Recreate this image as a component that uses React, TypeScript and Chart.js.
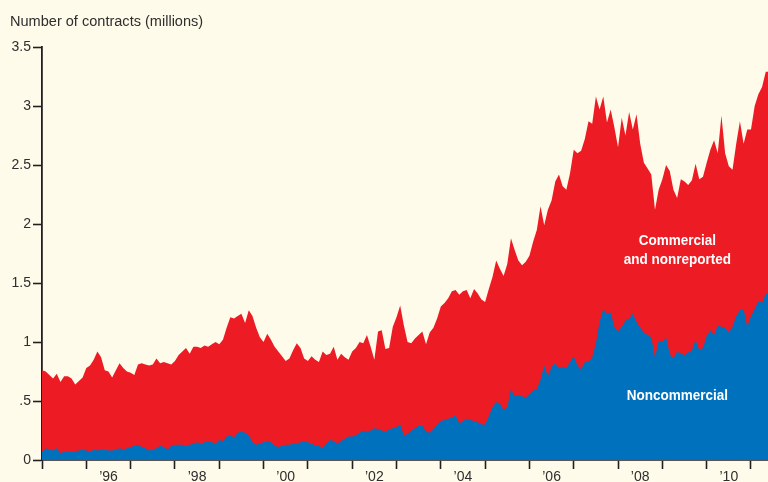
import React, { useEffect, useRef } from "react";
import { Chart, registerables } from "chart.js";

Chart.register(...registerables);

// Monthly values, starting January 1995 (millions of contracts)
const START_YEAR = 1995;
const END_YEAR = 2011.384;

const total = [
  0.76, 0.75, 0.72, 0.69, 0.73, 0.66, 0.71, 0.71, 0.69, 0.64, 0.67, 0.70,
  0.78, 0.80, 0.85, 0.92, 0.87, 0.76, 0.75, 0.70, 0.76, 0.82, 0.78, 0.75,
  0.74, 0.72, 0.81, 0.82, 0.81, 0.80, 0.81, 0.86, 0.82, 0.83, 0.82, 0.81,
  0.84, 0.89, 0.92, 0.95, 0.90, 0.96, 0.96, 0.95, 0.97, 0.96, 0.98, 1.00,
  0.98, 1.02, 1.12, 1.21, 1.20, 1.22, 1.24, 1.16, 1.27, 1.22, 1.12, 1.04,
  1.00, 1.07, 1.02, 0.96, 0.92, 0.88, 0.84, 0.86, 0.93, 0.99, 0.95, 0.86,
  0.84, 0.88, 0.85, 0.83, 0.92, 0.89, 0.90, 0.96, 0.85, 0.90, 0.87, 0.85,
  0.92, 0.95, 1.00, 0.99, 1.06, 0.96, 0.85, 1.09, 1.10, 0.94, 0.95, 1.13,
  1.21, 1.31, 1.14, 1.00, 0.99, 1.03, 1.06, 1.09, 0.98, 1.08, 1.12, 1.20,
  1.30, 1.33, 1.37, 1.43, 1.44, 1.40, 1.43, 1.44, 1.37, 1.45, 1.41, 1.36,
  1.34, 1.45, 1.55, 1.69, 1.62, 1.56, 1.66, 1.88, 1.78, 1.69, 1.65, 1.68,
  1.73, 1.85, 1.95, 2.15, 1.99, 2.12, 2.20, 2.36, 2.42, 2.32, 2.29, 2.43,
  2.63, 2.60, 2.62, 2.72, 2.87, 2.85, 3.08, 2.97, 3.08, 2.86, 2.97, 2.82,
  2.65, 2.90, 2.75, 2.95, 2.80, 2.93, 2.68, 2.52, 2.47, 2.42, 2.12, 2.29,
  2.38, 2.50, 2.45, 2.29, 2.22, 2.38, 2.36, 2.33, 2.37, 2.51, 2.38, 2.40,
  2.52, 2.63, 2.71, 2.60, 2.92, 2.60, 2.49, 2.46, 2.68, 2.87, 2.68, 2.80,
  2.80, 3.00, 3.10, 3.16, 3.29, 3.29,
];

const noncommercial = [
  0.07, 0.10, 0.09, 0.08, 0.10, 0.06, 0.07, 0.07, 0.07, 0.07, 0.08, 0.09,
  0.08, 0.07, 0.09, 0.08, 0.09, 0.09, 0.08, 0.08, 0.09, 0.10, 0.09, 0.10,
  0.11, 0.12, 0.13, 0.11, 0.10, 0.08, 0.09, 0.10, 0.12, 0.11, 0.09, 0.12,
  0.13, 0.13, 0.13, 0.12, 0.13, 0.14, 0.15, 0.14, 0.15, 0.16, 0.15, 0.14,
  0.17, 0.16, 0.20, 0.21, 0.19, 0.23, 0.24, 0.23, 0.21, 0.15, 0.13, 0.14,
  0.15, 0.16, 0.15, 0.12, 0.11, 0.12, 0.13, 0.13, 0.14, 0.14, 0.15, 0.16,
  0.15, 0.14, 0.12, 0.12, 0.10, 0.14, 0.17, 0.16, 0.14, 0.16, 0.18, 0.20,
  0.20, 0.21, 0.23, 0.25, 0.24, 0.25, 0.27, 0.26, 0.25, 0.24, 0.26, 0.27,
  0.28, 0.30, 0.21, 0.22, 0.25, 0.27, 0.29, 0.29, 0.24, 0.23, 0.26, 0.30,
  0.33, 0.34, 0.35, 0.36, 0.38, 0.31, 0.33, 0.35, 0.34, 0.33, 0.32, 0.30,
  0.30, 0.37, 0.45, 0.49, 0.48, 0.42, 0.45, 0.60, 0.54, 0.55, 0.54, 0.53,
  0.56, 0.59, 0.60, 0.68, 0.80, 0.71, 0.79, 0.82, 0.78, 0.79, 0.78, 0.83,
  0.88, 0.80, 0.77, 0.83, 0.83, 0.87, 0.99, 1.17, 1.28, 1.24, 1.25, 1.13,
  1.09, 1.13, 1.18, 1.20, 1.24, 1.17, 1.12, 1.08, 1.06, 1.04, 0.87, 1.01,
  1.00, 1.04, 0.90, 0.86, 0.92, 0.90, 0.89, 0.91, 0.93, 1.02, 0.93, 0.95,
  1.05, 1.10, 1.06, 1.14, 1.13, 1.12, 1.08, 1.13, 1.22, 1.27, 1.28, 1.13,
  1.22, 1.28, 1.35, 1.33, 1.41, 1.41,
];

const tickYears = [1995, 1996, 1997, 1998, 1999, 2000, 2001, 2002, 2003, 2004, 2005, 2006, 2007, 2008, 2009, 2010, 2011];
const labelYears = [1996, 1998, 2000, 2002, 2004, 2006, 2008, 2010];
const xTickLabels = ["\u201996", "\u201998", "\u201900", "\u201902", "\u201904", "\u201906", "\u201908", "\u201910"];
const yTickValues = [0, 0.5, 1, 1.5, 2, 2.5, 3, 3.5];
const yTickLabels = ["0", ".5", "1", "1.5", "2", "2.5", "3", "3.5"];

const TITLE = "Number of contracts (millions)";
const areaLabels = [
  { text: "Commercial", x: 2009.34, y: 1.82 },
  { text: "and nonreported", x: 2009.34, y: 1.665 },
  { text: "Noncommercial", x: 2009.34, y: 0.51 },
];

const BG = "#fffbea";
const RED = "#ed1c24";
const BLUE = "#0071bc";
const INK = "#231f20";
const TEXT = "#2e2e2e";
const FONT = "'Liberation Sans', Arial, sans-serif";

export default function App() {
  const ref = useRef<HTMLCanvasElement>(null);

  useEffect(() => {
    document.body.style.margin = "0";
    document.body.style.background = BG;
    const canvas = ref.current;
    if (!canvas) return;

    const toPts = (arr: number[]) => arr.map((v, i) => ({ x: START_YEAR + i / 12, y: v }));

    const decor = {
      id: "decor",
      beforeDraw(chart: any) {
        const c = chart.ctx;
        c.save();
        c.fillStyle = BG;
        c.fillRect(0, 0, chart.width, chart.height);
        c.restore();
      },
      afterDatasetsDraw(chart: any) {
        const c = chart.ctx;
        const { x, y } = chart.scales;
        c.save();
        c.fillStyle = "#ffffff";
        c.font = "bold 15px " + FONT;
        c.textAlign = "center";
        c.textBaseline = "alphabetic";
        const sx = 0.9;
        areaLabels.forEach((l) => {
          c.save();
          c.translate(x.getPixelForValue(l.x), y.getPixelForValue(l.y));
          c.scale(sx, 1);
          c.fillText(l.text, 0, 0);
          c.restore();
        });
        c.restore();
      },
      afterDraw(chart: any) {
        const c = chart.ctx;
        c.save();
        c.fillStyle = TEXT;
        c.font = "15.4px " + FONT;
        c.textAlign = "left";
        c.textBaseline = "alphabetic";
        c.translate(10, 26);
        c.scale(0.945, 1);
        c.fillText(TITLE, 0, 0);
        c.restore();
      },
    };

    const chart = new Chart(canvas, {
      type: "line",
      data: {
        datasets: [
          {
            label: "Noncommercial",
            data: toPts(noncommercial),
            backgroundColor: BLUE,
            borderColor: "rgba(0,0,0,0)",
            borderWidth: 0,
            pointRadius: 0,
            fill: "origin",
            tension: 0,
          },
          {
            label: "Commercial and nonreported",
            data: toPts(total),
            backgroundColor: RED,
            borderColor: "rgba(0,0,0,0)",
            borderWidth: 0,
            pointRadius: 0,
            fill: "origin",
            tension: 0,
          },
        ],
      },
      options: {
        responsive: false,
        animation: false,
        devicePixelRatio: 1,
        layout: { padding: { top: 47, left: 0, right: 0, bottom: 0 } },
        plugins: { legend: { display: false }, tooltip: { enabled: false }, title: { display: false } },
        scales: {
          x: {
            type: "linear",
            min: START_YEAR,
            max: END_YEAR,
            afterBuildTicks(scale: any) {
              const vals = tickYears.concat(labelYears.map((y) => y + 0.5)).sort((a, b) => a - b);
              scale.ticks = vals.map((v) => ({ value: v }));
            },
            afterFit(scale: any) {
              scale.height = 22;
            },
            grid: {
              drawOnChartArea: false,
              drawTicks: true,
              tickLength: 9,
              tickWidth: 1.6,
              tickColor: (ctx: any) =>
                ctx.tick && Number.isInteger(ctx.tick.value) ? INK : "rgba(0,0,0,0)",
            },
            border: { display: true, color: INK, width: 1.8 },
            ticks: {
              autoSkip: false,
              maxRotation: 0,
              padding: 0,
              color: TEXT,
              font: { family: FONT, size: 14 },
              callback: (value: any) => {
                const i = labelYears.indexOf(Number(value) - 0.5);
                return i >= 0 ? xTickLabels[i] : "";
              },
            },
          },
          y: {
            type: "linear",
            min: 0,
            max: 3.5,
            afterBuildTicks(scale: any) {
              scale.ticks = yTickValues.map((v) => ({ value: v }));
            },
            afterFit(scale: any) {
              scale.width = 42;
            },
            grid: {
              drawOnChartArea: false,
              drawTicks: true,
              tickLength: 9,
              tickWidth: 1.6,
              tickColor: INK,
            },
            border: { display: true, color: INK, width: 1.8 },
            ticks: {
              padding: 2,
              color: TEXT,
              font: { family: FONT, size: 14 },
              callback: (value: any) => {
                const i = yTickValues.indexOf(Number(value));
                return i >= 0 ? yTickLabels[i] : "";
              },
            },
          },
        },
      },
      plugins: [decor],
    } as any);

    return () => chart.destroy();
  }, []);

  return (
    <div style={{ width: 768, height: 482, position: "relative", background: BG }}>
      <canvas ref={ref} width={768} height={482} style={{ display: "block" }} />
    </div>
  );
}
